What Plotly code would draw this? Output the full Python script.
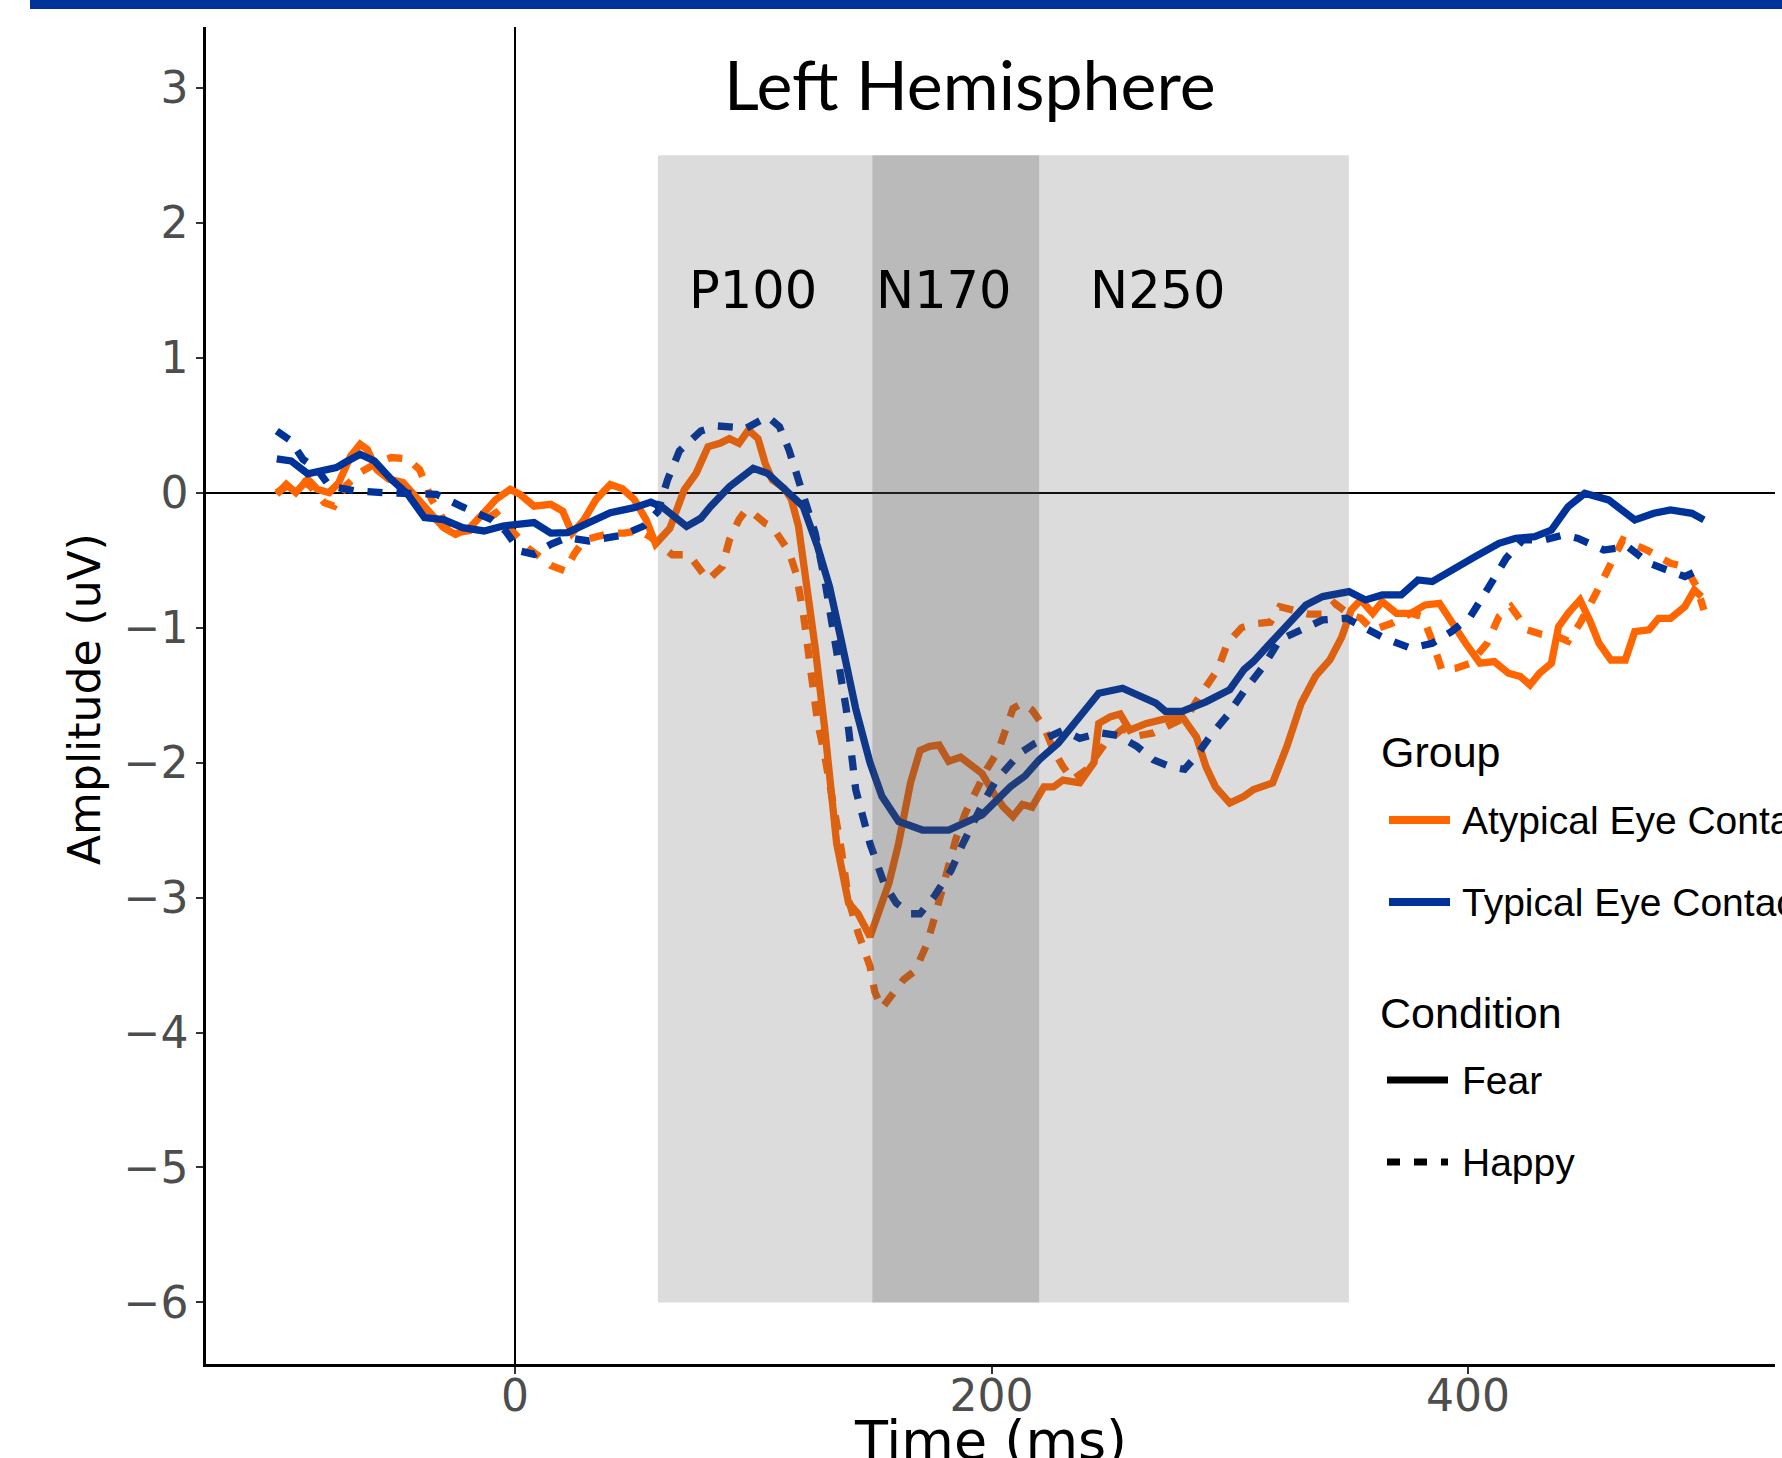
import plotly.graph_objects as go

# ---------------- data ----------------
typ_fear_t = [-100, -94, -87, -75, -71, -65, -59, -52, -45, -38, -30, -22, -13, -5, 8, 15, 22, 29, 40, 50,
              57, 62, 66, 72, 78, 82, 90, 100, 106, 114, 121, 127, 132, 137, 143, 149, 154, 161, 171, 182,
              189, 196, 208, 214, 220, 228, 237, 245, 255, 264, 269, 273, 280, 290, 300, 306, 310, 317, 325, 332,
              339, 350, 357, 364, 372, 379, 385, 394, 403, 413, 420, 428, 435, 442, 449, 459, 465, 470, 478, 485,
              494, 499]
typ_fear_v = [0.25, 0.235, 0.14, 0.185, 0.227, 0.284, 0.235, 0.1, -0.012, -0.185, -0.2, -0.26, -0.284, -0.247, -0.222, -0.30, -0.296, -0.235, -0.148, -0.111,
              -0.07, -0.11, -0.165, -0.25, -0.19, -0.104, 0.044, 0.18, 0.143, 0.02, -0.104, -0.4, -0.696, -1.1, -1.6, -2.0, -2.25, -2.437, -2.5, -2.5,
              -2.45, -2.388, -2.177, -2.1, -1.98, -1.856, -1.66, -1.486, -1.449, -1.523, -1.56, -1.62, -1.62, -1.55, -1.46, -1.31, -1.25, -1.116, -0.968, -0.832,
              -0.77, -0.733, -0.795, -0.758, -0.758, -0.647, -0.659, -0.56, -0.474, -0.375, -0.338, -0.326, -0.277, -0.104, -0.005, -0.054, -0.128, -0.202, -0.153, -0.128,
              -0.153, -0.202]

typ_happy_t = [-100, -94, -89, -83, -78, -67, -55, -44, -33, -22, -10, -4, 2, 8, 15, 22, 31, 45, 54, 60,
               64, 69, 78, 85, 92, 97, 106, 111, 115, 119, 122, 126, 130, 135, 139, 143, 149, 155, 160, 166,
               170, 176, 183, 188, 192, 197, 202, 208, 212, 218, 225, 230, 237, 246, 253, 261, 268, 275, 281, 286,
               292, 299, 306, 314, 321, 332, 339, 349, 357, 365, 376, 385, 393, 401, 408, 416, 423, 432, 440, 446,
               457, 467, 476, 483, 491, 497]
typ_happy_v = [0.457, 0.383, 0.247, 0.173, 0.05, 0.012, 0.0, -0.012, -0.012, -0.106, -0.198, -0.284, -0.432, -0.457, -0.383, -0.333, -0.358, -0.316, -0.247, -0.14,
               0.094, 0.309, 0.457, 0.494, 0.489, 0.477, 0.563, 0.489, 0.316, 0.094, -0.104, -0.30, -0.647, -1.15, -1.6, -2.2, -2.6, -2.9, -3.04, -3.12,
               -3.12, -2.99, -2.8, -2.6, -2.45, -2.28, -2.13, -2.0, -1.93, -1.86, -1.8, -1.76, -1.82, -1.78, -1.8, -1.88, -1.98, -2.03, -2.05, -1.95,
               -1.8, -1.65, -1.47, -1.29, -1.09, -1.005, -0.943, -0.93, -1.005, -1.079, -1.153, -1.116, -1.03, -0.918, -0.72, -0.486, -0.35, -0.35, -0.314, -0.338,
               -0.425, -0.4, -0.523, -0.573, -0.622, -0.573]

atyp_fear_t = [-100, -96, -92, -87, -83, -78, -74, -69, -65, -62, -58, -53, -47, -41, -36, -30, -25, -19, -13, -8,
               -2, 2, 8, 15, 20, 24, 29, 34, 40, 45, 50, 55, 59, 65, 71, 76, 81, 86, 90, 94,
               98, 102, 105, 108, 113, 116, 119, 122, 126, 130, 135, 140, 144, 149, 153, 157, 161, 166, 170, 174,
               178, 182, 187, 192, 196, 201, 205, 209, 213, 217, 222, 226, 230, 237, 243, 245, 250, 254, 258, 265,
               272, 280, 286, 290, 294, 300, 306, 310, 318, 324, 330, 336, 342, 347, 351, 355, 360, 364, 370, 376,
               382, 388, 394, 399, 405, 411, 417, 422, 426, 430, 435, 438, 442, 447, 451, 455, 460, 466, 470, 476,
               480, 485, 491, 495, 498]
atyp_fear_v = [-0.012, 0.062, 0.0, 0.1, 0.025, 0.0, 0.074, 0.27, 0.358, 0.32, 0.17, 0.1, 0.074, -0.05, -0.148, -0.26, -0.309, -0.26, -0.148, -0.05,
               0.025, -0.012, -0.1, -0.086, -0.136, -0.3, -0.2, -0.05, 0.06, 0.03, -0.05, -0.2, -0.38, -0.264, 0.02, 0.143, 0.34, 0.365, 0.4, 0.365,
               0.464, 0.4, 0.217, 0.094, 0.032, -0.05, -0.25, -0.6, -1.15, -1.75, -2.6, -3.04, -3.12, -3.29, -3.07, -2.89, -2.6, -2.15, -1.91, -1.88,
               -1.87, -1.99, -1.96, -2.02, -2.08, -2.23, -2.33, -2.4, -2.31, -2.33, -2.18, -2.18, -2.13, -2.15, -2.0, -1.71, -1.66, -1.64, -1.76, -1.71,
               -1.68, -1.66, -1.81, -2.03, -2.18, -2.3, -2.25, -2.2, -2.15, -1.88, -1.56, -1.36, -1.24, -1.07, -0.87, -0.795, -0.894, -0.807, -0.894, -0.894,
               -0.832, -0.82, -0.993, -1.116, -1.264, -1.252, -1.338, -1.363, -1.425, -1.338, -1.264, -0.993, -0.894, -0.795, -0.943, -1.116, -1.24, -1.24, -1.03, -1.017,
               -0.931, -0.931, -0.844, -0.721, -0.77]

atyp_happy_t = [-100, -95, -91, -86, -80, -76, -71, -65, -58, -52, -45, -40, -35, -30, -25, -19, -13, -8, -3, 1,
                6, 10, 15, 21, 25, 29, 35, 40, 46, 52, 57, 62, 66, 73, 78, 81, 87, 90, 94, 97,
                100, 105, 108, 111, 115, 118, 121, 124, 127, 130, 133, 137, 140, 144, 149, 151, 154, 159, 163, 168,
                173, 177, 181, 185, 189, 194, 198, 203, 206, 209, 213, 217, 222, 226, 230, 234, 240, 248, 255, 262,
                268, 275, 282, 288, 295, 299, 305, 311, 317, 321, 327, 333, 339, 344, 350, 355, 360, 368, 376, 381,
                385, 389, 395, 401, 408, 413, 418, 425, 431, 438, 442, 447, 453, 459, 465, 475, 485, 491, 496, 499]
atyp_happy_v = [0.0, 0.05, 0.1, 0.05, -0.074, -0.1, 0.05, 0.15, 0.22, 0.26, 0.25, 0.17, -0.05, -0.2, -0.3, -0.28, -0.2, -0.15, -0.25, -0.33,
                -0.42, -0.47, -0.54, -0.58, -0.45, -0.35, -0.33, -0.3, -0.3, -0.28, -0.33, -0.4, -0.46, -0.46, -0.585, -0.647, -0.548, -0.35, -0.2, -0.128,
                -0.153, -0.227, -0.252, -0.326, -0.437, -0.6, -0.894, -1.3, -1.7, -1.95, -2.227, -2.65, -3.016, -3.26, -3.51, -3.7, -3.82, -3.71, -3.61, -3.54,
                -3.34, -3.09, -2.82, -2.57, -2.375, -2.2, -2.05, -1.906, -1.757, -1.6, -1.56, -1.61, -1.733, -1.906, -2.03, -2.128, -2.05, -1.85, -1.75, -1.8,
                -1.78, -1.72, -1.66, -1.49, -1.31, -1.116, -1.0, -0.97, -0.96, -0.845, -0.87, -0.9, -0.9, -0.82, -0.9, -0.93, -1.017, -0.968, -0.894, -0.92,
                -1.1, -1.314, -1.3, -1.264, -1.116, -0.918, -0.845, -1.017, -1.05, -1.07, -1.1, -0.968, -0.77, -0.548, -0.35, -0.425, -0.523, -0.548, -0.696, -0.87]

x_ticks = [0, 200, 400]
y_ticks = [-6, -5, -4, -3, -2, -1, 0, 1, 2, 3]
components = ["P100", "N170", "N250"]
component_x = [100, 180, 270]
component_y = 1.5
window_all = (60, 350)
window_n170 = (150, 220)
window_y = (-6, 2.5)
group_labels = ["Atypical Eye Contact", "Typical Eye Contact"]
condition_labels = ["Fear", "Happy"]

# ---------------- styles ----------------
ORANGE = "#FF6600"
BLUE = "#003399"
W, H = 1782, 1458
ML, MR, MT, MB = 206, 7, 27, 94
PW, PH = W - ML - MR, H - MT - MB


def paper_x(px):
    return (px - ML) / PW


def paper_y(py):
    return (H - MB - py) / PH


DASH = "15px,14px"
fig = go.Figure()
series = [
    (atyp_fear_t, atyp_fear_v, ORANGE, "solid"),
    (atyp_happy_t, atyp_happy_v, ORANGE, DASH),
    (typ_happy_t, typ_happy_v, BLUE, DASH),
    (typ_fear_t, typ_fear_v, BLUE, "solid"),
]
for t, v, c, d in series:
    fig.add_trace(go.Scatter(x=t, y=v, mode="lines", showlegend=False, hoverinfo="skip",
                             line=dict(color=c, width=7.3, dash=d)))

shapes = [
    dict(type="rect", xref="x", yref="y", x0=window_all[0], x1=window_all[1], y0=window_y[0], y1=window_y[1],
         fillcolor="rgba(80,80,80,0.2)", line=dict(width=0), layer="above"),
    dict(type="rect", xref="x", yref="y", x0=window_n170[0], x1=window_n170[1], y0=window_y[0], y1=window_y[1],
         fillcolor="rgba(80,80,80,0.24)", line=dict(width=0), layer="above"),
    # decorative bar at the top of the slide
    dict(type="rect", xref="paper", yref="paper", x0=paper_x(30), x1=paper_x(1790), y0=paper_y(9), y1=paper_y(-2),
         fillcolor=BLUE, line=dict(width=0), layer="above"),
]

annotations = []
annotations.append(dict(text="Left Hemisphere", xref="paper", yref="paper", x=paper_x(970), y=paper_y(83),
                        xanchor="center", yanchor="middle", showarrow=False,
                        font=dict(family="Lato", size=68, color="black")))
for lab, cx in zip(components, component_x):
    annotations.append(dict(text=lab, xref="x", yref="y", x=cx, y=component_y, xanchor="center", yanchor="middle",
                            showarrow=False, font=dict(family="DejaVu Sans", size=51, color="black")))
# axis titles
annotations.append(dict(text="Time (ms)", xref="paper", yref="paper", x=paper_x(990), y=paper_y(1441),
                        xanchor="center", yanchor="middle", showarrow=False,
                        font=dict(family="DejaVu Sans", size=54, color="black")))
annotations.append(dict(text="Amplitude (uV)", xref="paper", yref="paper", x=paper_x(84), y=paper_y(699),
                        xanchor="center", yanchor="middle", showarrow=False, textangle=-90,
                        font=dict(family="DejaVu Sans", size=44, color="black")))

# legend (drawn manually: two blocks)
LEG_FONT = dict(family="Liberation Sans", size=39, color="black")
TITLE_FONT = dict(family="Liberation Sans", size=43, color="black")
annotations.append(dict(text="Group", xref="paper", yref="paper", x=paper_x(1379), y=paper_y(752),
                        xanchor="left", yanchor="middle", showarrow=False, font=TITLE_FONT))
annotations.append(dict(text="Condition", xref="paper", yref="paper", x=paper_x(1378), y=paper_y(1013),
                        xanchor="left", yanchor="middle", showarrow=False, font=TITLE_FONT))
grp_rows = [(group_labels[0], ORANGE, 820), (group_labels[1], BLUE, 902)]
cond_rows = [(condition_labels[0], "solid", 1080), (condition_labels[1], "13px,14px", 1162)]
for lab, col, py in grp_rows:
    shapes.append(dict(type="line", xref="paper", yref="paper", x0=paper_x(1389), x1=paper_x(1450),
                       y0=paper_y(py), y1=paper_y(py), line=dict(color=col, width=8)))
    annotations.append(dict(text=lab, xref="paper", yref="paper", x=paper_x(1460), y=paper_y(py),
                            xanchor="left", yanchor="middle", showarrow=False, font=LEG_FONT))
for lab, dash, py in cond_rows:
    shapes.append(dict(type="line", xref="paper", yref="paper", x0=paper_x(1387), x1=paper_x(1448),
                       y0=paper_y(py), y1=paper_y(py), line=dict(color="black", width=7, dash=dash)))
    annotations.append(dict(text=lab, xref="paper", yref="paper", x=paper_x(1460), y=paper_y(py),
                            xanchor="left", yanchor="middle", showarrow=False, font=LEG_FONT))

axis_common = dict(showgrid=False, showline=True, linecolor="black", linewidth=2.5,
                   ticks="outside", ticklen=7, tickwidth=2, tickcolor="#333333",
                   tickfont=dict(family="DejaVu Sans", size=44, color="#4D4D4D"),
                   zeroline=True, zerolinecolor="black", zerolinewidth=2)
fig.update_layout(
    width=W, height=H, autosize=False,
    margin=dict(l=ML, r=MR, t=MT, b=MB, pad=0),
    paper_bgcolor="white", plot_bgcolor="white",
    xaxis=dict(range=[-129.7, 528.85], tickvals=x_ticks, ticklabelstandoff=-16, **axis_common),
    yaxis=dict(range=[-6.456, 3.45], tickvals=y_ticks, ticklabelstandoff=-1, **axis_common),
    shapes=shapes, annotations=annotations, showlegend=False,
)

fig.write_html("out.html", config={"displayModeBar": False},
               post_script="document.body.style.margin='0';")
